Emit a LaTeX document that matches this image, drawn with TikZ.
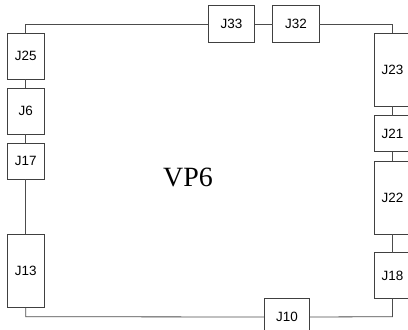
\documentclass[tikz,border=0pt]{standalone}
\usepackage{fontspec}
\setmainfont{Liberation Serif}
\setsansfont{Liberation Sans}
\begin{document}
\begin{tikzpicture}[x=1bp,y=-1bp,
  box/.style={draw=black!75, line width=0.8bp, fill=white, inner sep=0pt, outer sep=0pt, rectangle,
    font=\sffamily\fontsize{13.5}{14}\selectfont},
  lbox/.style={box, minimum width=36.7bp},
  rbox/.style={box, minimum width=37bp},
  hbox/.style={box, minimum width=46.6bp, minimum height=37.4bp},
  wire/.style={draw=black!70, line width=0.8bp}]
\useasboundingbox (0,0) rectangle (408,330);
\clip (0,0) rectangle (408,330);
\coordinate (tl) at (25.7,24);
\coordinate (tr) at (392.5,24);
\coordinate (bl) at (25.7,316.7);
\coordinate (br) at (392.5,316.7);
% wires first
\node[lbox, minimum height=46bp] (J25) at (25.7,56) {J25};
\node[lbox, minimum height=46bp] (J6) at (25.7,111) {J6};
\node[lbox, minimum height=36.3bp] (J17) at (25.7,161.2) {J17};
\node[lbox, minimum height=73.4bp] (J13) at (25.7,271) {J13};
\node[hbox] (J33) at (231.5,24) {J33};
\node[hbox] (J32) at (296,24) {J32};
\node[rbox, minimum height=73.3bp] (J23) at (392.5,69.7) {J23};
\node[rbox, minimum height=36bp] (J21) at (392.5,133.7) {J21};
\node[rbox, minimum height=73bp] (J22) at (392.5,197.5) {J22};
\node[rbox, minimum height=45.6bp] (J18) at (392.5,275.5) {J18};
\node[hbox, minimum width=45.7bp] (J10) at (287,317) {J10};
\node[font=\fontsize{28}{30}\selectfont] (VP6) at (188,177) {VP6};
\draw[wire] (J25.north) -- (tl) -- (J33.west);
\draw[wire] (J33.east) -- (J32.west);
\draw[wire] (J32.east) -- (tr) -- (J23.north);
\draw[wire] (J23.south) -- (J21.north);
\draw[wire] (J21.south) -- (J22.north);
\draw[wire] (J22.south) -- (J18.north);
\draw[wire] (J18.south) -- (br) -- (J10.east);
\draw[wire] (J10.west) -- (bl) -- (J13.south);
\draw[wire] (J13.north) -- (J17.south);
\draw[wire] (J17.north) -- (J6.south);
\draw[wire] (J6.north) -- (J25.south);
\end{tikzpicture}
\end{document}
